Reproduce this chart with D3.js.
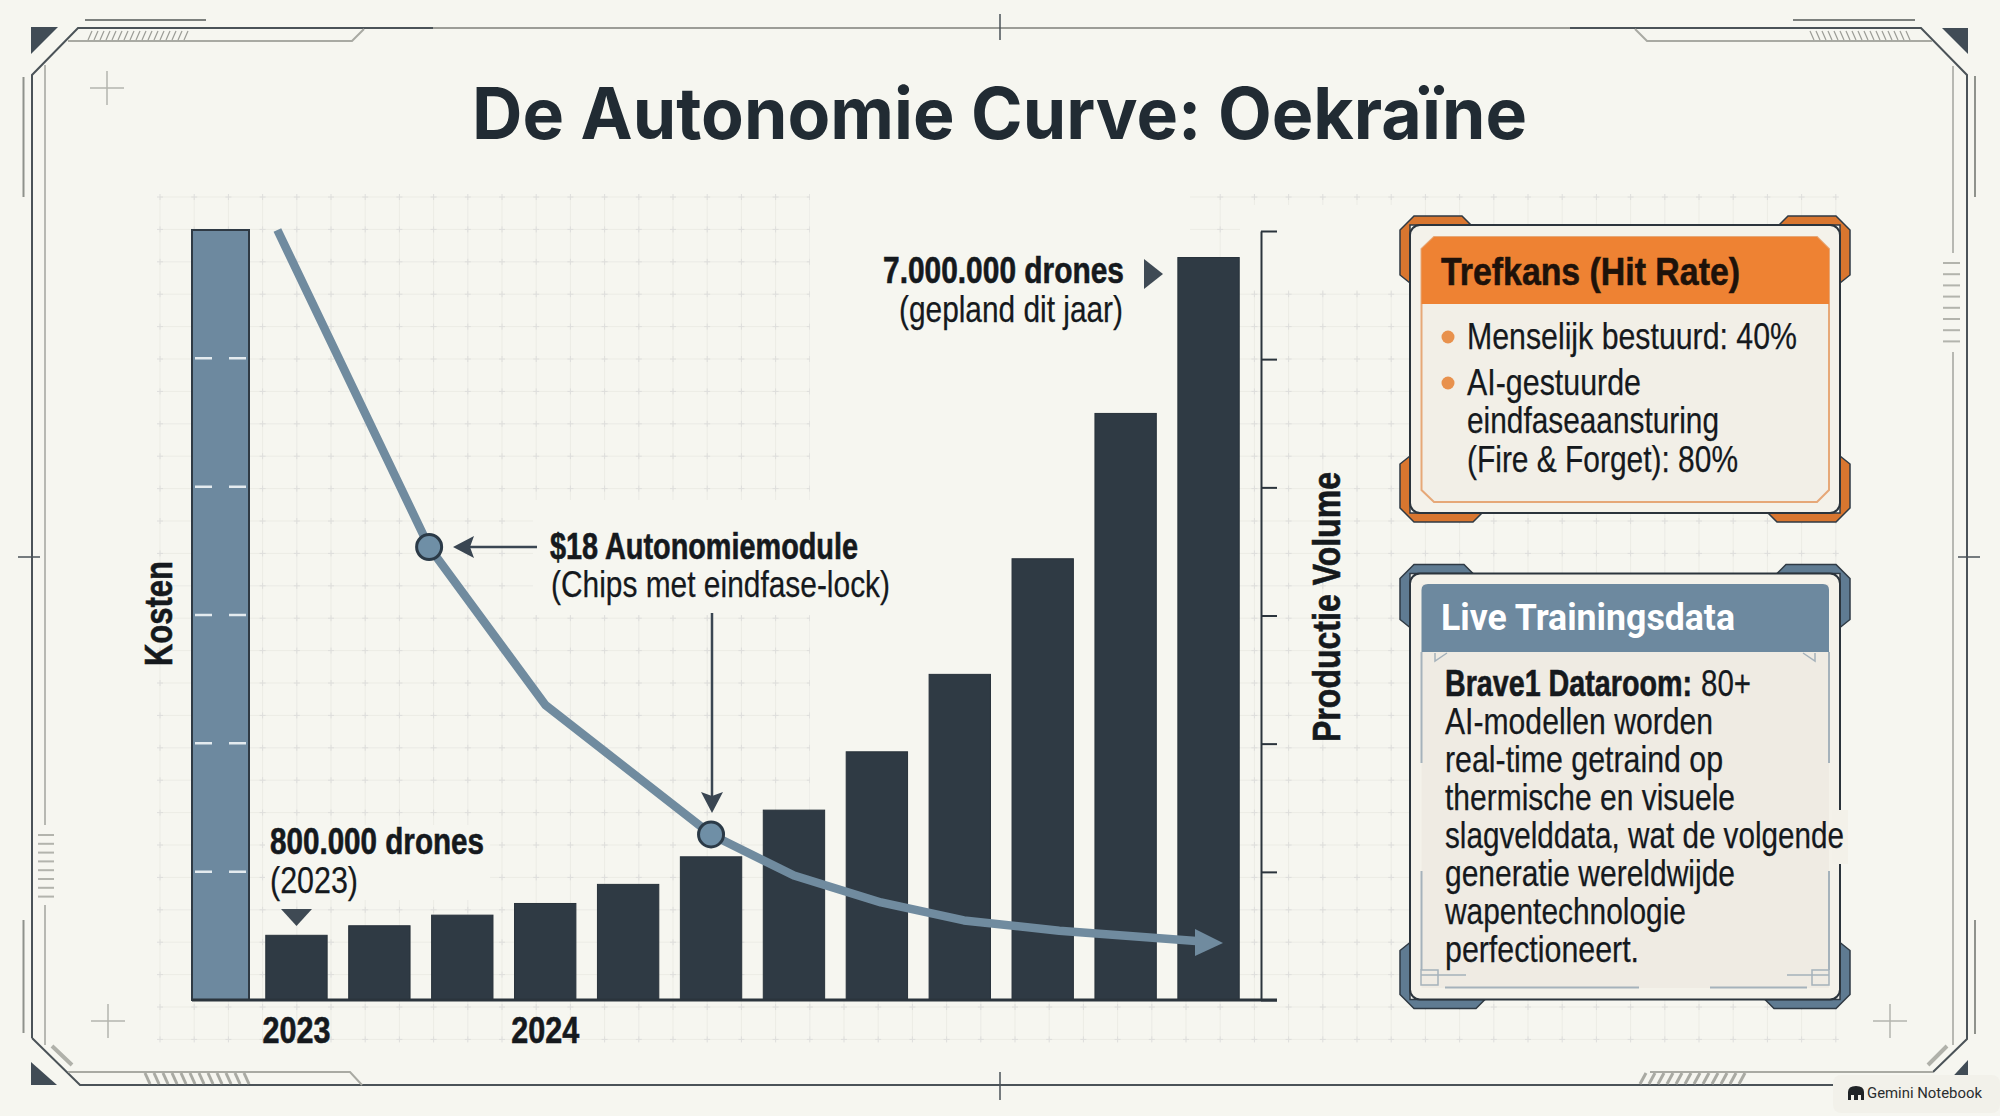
<!DOCTYPE html>
<html>
<head>
<meta charset="utf-8">
<title>De Autonomie Curve: Oekraïne</title>
<script src="https://cdn.jsdelivr.net/npm/d3@7"></script>
<style>
  html, body { margin: 0; padding: 0; background: #f6f6f0; }
  svg { display: block; }
  .narrow { font-family: 'Liberation Sans Narrow', 'Liberation Sans', sans-serif; }
</style>
</head>
<body>
<svg id="chart" width="2000" height="1116"></svg>
<script>
// Production volume per period, in millions of drones (bar heights)
const periods = ['2023', 'p2', 'p3', '2024', 'p5', 'p6', 'p7', 'p8', 'p9', 'p10', 'p11', 'p12'];
const volumes = [0.61, 0.70, 0.80, 0.91, 1.09, 1.35, 1.79, 2.34, 3.07, 4.16, 5.53, 7.0];
const periodLabels = ['2023', '2024'];
const volumeTicks = [0, 1.208, 2.417, 3.625, 4.833, 6.042, 7.25];

// Cost curve: position in periods, cost in axis steps
const costPeriods = [-0.23, 1.6, 3.0, 5.0, 6.0, 7.05, 8.05, 9.2, 10.85];
const costValues = [6.0, 3.53, 2.3, 1.29, 0.97, 0.76, 0.62, 0.54, 0.46];
const costTicks = [1, 2, 3, 4, 5];
const costMarkers = [1, 3];

const hitRateLines = ['Menselijk bestuurd: 40%', 'AI-gestuurde', 'eindfaseaansturing', '(Fire & Forget): 80%'];
const trainingLines = ['AI-modellen worden', 'real-time getraind op', 'thermische en visuele',
  'slagvelddata, wat de volgende', 'generatie wereldwijde', 'wapentechnologie', 'perfectioneert.'];

const dark = '#2f3a44';
const ink = '#15191d';
const slate = '#6d899f';
const bg = '#f6f6f0';

const svg = d3.select('#chart');
svg.append('rect').attr('width', 2000).attr('height', 1116).attr('fill', bg);

function label(parent, str, x, y, size, width, opts = {}) {
  const fill = opts.fill || ink;
  const t = parent.append('text')
    .attr('x', x).attr('y', y)
    .attr('class', opts.family ? null : 'narrow')
    .attr('font-size', size)
    .attr('font-weight', opts.weight || 400)
    .attr('fill', fill)
    .text(str);
  if (opts.family) t.attr('font-family', opts.family);
  else t.attr('stroke', fill).attr('stroke-width', opts.weight ? 0.6 : 0.25);
  if (width) t.attr('textLength', width).attr('lengthAdjust', 'spacingAndGlyphs');
  return t;
}

// Background grid with little plus marks
const grid = svg.append('g');
const gridXs = d3.range(50).map(i => 160 + i * 34.2);
const gridYs = d3.range(27).map(i => 197 + i * 32.4);
gridXs.forEach(x => grid.append('line').attr('x1', x).attr('x2', x).attr('y1', 197).attr('y2', 1040)
  .attr('stroke', '#ecece5').attr('stroke-width', 1));
gridYs.forEach(y => grid.append('line').attr('x1', 160).attr('x2', 1836).attr('y1', y).attr('y2', y)
  .attr('stroke', '#ecece5').attr('stroke-width', 1));
gridXs.forEach(x => gridYs.forEach(y => {
  grid.append('path').attr('d', `M${x - 3},${y}H${x + 3}M${x},${y - 3}V${y + 3}`)
    .attr('stroke', '#dededc').attr('stroke-width', 1).attr('fill', 'none');
}));
// grid fades out behind the labels
[[810, 190, 380, 810], [533, 500, 277, 115], [265, 825, 225, 75], [1240, 205, 160, 85]].forEach(r => {
  grid.append('rect').attr('x', r[0]).attr('y', r[1]).attr('width', r[2]).attr('height', r[3]).attr('fill', bg);
});

// Frame
const frame = svg.append('g').attr('fill', 'none');
function stroke(d, color, w) {
  frame.append('path').attr('d', d).attr('stroke', color).attr('stroke-width', w).attr('fill', 'none');
}
function hatch(x0, x1, y0, y1, step, lean, color, w) {
  d3.range(x0, x1, step).forEach(x => stroke(`M${x + lean},${y0}L${x},${y1}`, color, w));
}
const lineDark = '#4b5358';
const lineGrey = '#a9aaa3';
stroke('M433,28H1570', '#9c9d97', 2);
stroke('M32,1038V75L78,28H433M1570,28H1921L1967,75V1039L1933,1072', lineDark, 2);
stroke('M32,1038L80,1085H1835', lineDark, 2);
stroke('M85,20H206M1793,20H1915', '#7c807d', 2);
stroke('M23.5,77V197M23.5,920V1033M1975,76V197M1975,920V1034', '#8f928c', 2);
stroke('M45,65V825M45,905V1045M1953,66V253M1953,352V1045', '#a3a49d', 1.5);
stroke('M68,41H352L364,29M1635,29L1647,41H1932', lineGrey, 2);
stroke('M68,1072H350L362,1085M1650,1072H1933', lineGrey, 2);
hatch(88, 186, 31, 40, 6, 4, '#9a9b95', 1.2);
hatch(1814, 1912, 31, 40, 6, -4, '#9a9b95', 1.2);
hatch(150, 256, 1073, 1084, 9, -5, '#a9aaa3', 3);
hatch(1640, 1740, 1073, 1084, 9, 6, '#a9aaa3', 3);
stroke('M52,1046L72,1065M1928,1065L1947,1046', '#b0b1aa', 4);
d3.range(8).forEach(i => {
  const y0 = 263 + i * 11.2;
  stroke(`M1943,${y0}H1960`, '#b3b4ad', 2);
  stroke(`M38,${835 + i * 8.8}H54`, '#b3b4ad', 2);
});
[[107, 88], [108, 1021], [1890, 1021]].forEach(c => {
  stroke(`M${c[0] - 17},${c[1]}H${c[0] + 17}M${c[0]},${c[1] - 17}V${c[1] + 17}`, '#b4b5ae', 1.5);
});
stroke('M1000,14V40M1000,1072V1100', lineDark, 1.5);
stroke('M18,557H40M1958,557H1980', lineDark, 1.5);
['M31,27H58L31,54Z', 'M1942,28H1968V54Z', 'M31,1062L57,1085H31Z', 'M1968,1060V1085H1945Z'].forEach(p => {
  frame.append('path').attr('d', p).attr('fill', '#414c56');
});

// Title
label(svg, 'De Autonomie Curve: Oekraïne', 472, 139, 71, 1055,
  { family: 'Inter, sans-serif', weight: 700, fill: '#212b33' });

// Scales
const x = d3.scaleBand().domain(periods).range([255, 1250]).paddingInner(0.26).paddingOuter(0.13);
const yVolume = d3.scaleLinear().domain([0, 7.25]).range([1000, 231]);
const yCost = d3.scaleLinear().domain([0, 6]).range([1000, 230]);
const xCost = d3.scaleLinear().domain([0, 11]).range([x(periods[0]) + x.bandwidth() / 2, x(periods[11]) + x.bandwidth() / 2]);

// Cost column
svg.append('rect')
  .attr('x', 192).attr('width', 57)
  .attr('y', yCost(6)).attr('height', yCost(0) - yCost(6))
  .attr('fill', slate).attr('stroke', dark).attr('stroke-width', 2);
svg.selectAll('.cost-dash')
  .data(costTicks)
  .enter()
  .append('path')
  .attr('class', 'cost-dash')
  .attr('d', d => `M195,${yCost(d)}H212M229,${yCost(d)}H246`)
  .attr('stroke', '#e4ebef').attr('stroke-width', 2.5);

// Bars
svg.selectAll('.bar')
  .data(volumes)
  .enter()
  .append('rect')
  .attr('class', 'bar')
  .attr('x', (d, i) => x(periods[i]))
  .attr('width', x.bandwidth())
  .attr('y', d => yVolume(d))
  .attr('height', d => yVolume(0) - yVolume(d))
  .attr('fill', '#2f3a44')
  .attr('stroke', '#28323b')
  .attr('stroke-width', 1);

// Baseline and right axis
const volumeAxis = d3.axisRight(yVolume).tickValues(volumeTicks).tickSize(16).tickSizeOuter(0);
const axisG = svg.append('g').attr('transform', 'translate(1261,0)').call(volumeAxis);
axisG.selectAll('text').remove();
axisG.selectAll('path, line').attr('stroke', '#2b343c').attr('stroke-width', 2);
svg.append('line').attr('x1', 192).attr('x2', 1277).attr('y1', 1000).attr('y2', 1000)
  .attr('stroke', '#2b343c').attr('stroke-width', 3);

const periodAxis = d3.axisBottom(x).tickValues(periodLabels).tickSize(0);
const periodG = svg.append('g').attr('transform', 'translate(0,1000)').call(periodAxis);
periodG.select('.domain').remove();
periodG.selectAll('text')
  .attr('class', 'narrow')
  .style('font-family', "'Liberation Sans Narrow', sans-serif")
  .attr('y', 43)
  .attr('dy', 0)
  .attr('font-size', 36)
  .attr('font-weight', 700)
  .attr('fill', ink)
  .attr('stroke', ink)
  .attr('stroke-width', 0.6)
  .attr('textLength', 68)
  .attr('lengthAdjust', 'spacingAndGlyphs');

// Cost curve
const costLine = d3.line()
  .x((d, i) => xCost(costPeriods[i]))
  .y(d => yCost(d));
svg.append('path')
  .attr('d', costLine(costValues))
  .attr('fill', 'none')
  .attr('stroke', '#708b9f')
  .attr('stroke-width', 8.5)
  .attr('stroke-linejoin', 'round');
svg.append('path').attr('d', 'M1195,929L1223,943L1195,956Z').attr('fill', '#708b9f');

svg.selectAll('.marker')
  .data(costMarkers)
  .enter()
  .append('circle')
  .attr('class', 'marker')
  .attr('cx', d => xCost(costPeriods[d]))
  .attr('cy', d => yCost(costValues[d]))
  .attr('r', 12.5)
  .attr('fill', '#6f8fa6')
  .attr('stroke', '#2b3a47')
  .attr('stroke-width', 3);

// Annotations
const arrowColor = '#3a4652';
svg.append('path').attr('d', 'M537,547H470').attr('stroke', arrowColor).attr('stroke-width', 2.5);
svg.append('path').attr('d', 'M453,547L474,536L470,547L474,558Z').attr('fill', arrowColor);
svg.append('path').attr('d', 'M712,613V796').attr('stroke', arrowColor).attr('stroke-width', 2.5);
svg.append('path').attr('d', 'M712,813L701,792L712,796L723,792Z').attr('fill', arrowColor);
svg.append('path').attr('d', 'M281,909H312L296.5,926Z').attr('fill', '#3f4a54');
svg.append('path').attr('d', 'M1144,259L1163,274L1144,289Z').attr('fill', '#3f4a54');

label(svg, '$18 Autonomiemodule', 550, 559, 36, 308, { weight: 700 });
label(svg, '(Chips met eindfase-lock)', 551, 597, 36, 339);
label(svg, '800.000 drones', 270, 854, 36, 214, { weight: 700 });
label(svg, '(2023)', 270, 893, 36, 88);
label(svg, '7.000.000 drones', 883, 283, 36, 241, { weight: 700 });
label(svg, '(gepland dit jaar)', 899, 322, 36, 224);

label(svg, 'Kosten', 0, 0, 38, 105, { weight: 700 })
  .attr('transform', 'translate(172,666) rotate(-90)');
label(svg, 'Productie Volume', 0, 0, 38, 270, { weight: 700 })
  .attr('transform', 'translate(1340,742) rotate(-90)');

// Panels
function panel(top, bottom, accent, wTop, wBottom, hTop, hBottom) {
  const g = svg.append('g');
  const x0 = 1400, x1 = 1850, y0 = top - 9, y1 = bottom + 9;
  const corner = (cx, cy, sx, sy, w, h) => {
    const pts = [[14, 0], [w - 9, 0], [w, 9], [10, 9], [10, h + 8], [0, h], [0, 14]];
    g.append('polygon')
      .attr('points', pts.map(q => `${cx + sx * q[0]},${cy + sy * q[1]}`).join(' '))
      .attr('fill', accent).attr('stroke', '#2f3a44').attr('stroke-width', 1.5);
  };
  corner(x0, y0, 1, 1, wTop, hTop);
  corner(x1, y0, -1, 1, wTop, hTop);
  corner(x0, y1, 1, -1, wBottom, hBottom);
  corner(x1, y1, -1, -1, wBottom, hBottom);
  g.append('rect').attr('x', 1410).attr('y', top).attr('width', 430).attr('height', bottom - top)
    .attr('rx', 10).attr('fill', '#f4f2ea').attr('stroke', '#2b343c').attr('stroke-width', 2);
  return g;
}

// Hit rate panel
const hit = panel(225, 513, '#d9762f', 71, 82, 59, 58);
hit.append('path').attr('d', 'M1421.5,304V249L1434,237H1817L1829,249V304V490L1817,502H1434L1421.5,490Z')
  .attr('fill', '#f2efe7').attr('stroke', '#e6a878').attr('stroke-width', 2);
hit.append('path').attr('d', 'M1421.5,304V249L1434,237H1817L1829,249V304Z').attr('fill', '#ee8233');
label(hit, 'Trefkans (Hit Rate)', 1441, 285, 39, 299, { weight: 700, fill: '#1e120a' });
hit.append('circle').attr('cx', 1448).attr('cy', 337).attr('r', 6.5).attr('fill', '#e8914d');
hit.append('circle').attr('cx', 1448).attr('cy', 383).attr('r', 6.5).attr('fill', '#e8914d');
const hitBaselines = [349, 395, 433, 472];
const hitWidths = [330, 174, 252, 271];
hitRateLines.forEach((s, i) => label(hit, s, 1467, hitBaselines[i], 37, hitWidths[i]));

// Training data panel
const live = panel(573.5, 999.5, '#5f7b92', 73, 85, 55, 58);
live.append('rect').attr('x', 1421.5).attr('y', 584).attr('width', 407.5).attr('height', 404)
  .attr('fill', '#efebe3');
live.append('path').attr('d', 'M1421.5,652V590Q1421.5,584 1428,584H1823Q1829,584 1829,590V652Z').attr('fill', slate);
label(live, 'Live Trainingsdata', 1441, 630, 36, 294, { family: 'Roboto, sans-serif', weight: 700, fill: '#ffffff' });
live.append('path')
  .attr('d', 'M1421.5,652V763M1421.5,871V970M1829,652V763M1829,871V970M1445,987.5H1639M1710,987.5H1807')
  .attr('stroke', '#a5b2bb').attr('stroke-width', 2).attr('fill', 'none');
live.append('path')
  .attr('d', 'M1421,975H1466M1421,985V970H1438V985ZM1829,985V970H1812V985ZM1829,975H1787M1435,653V661L1447,653M1815,653V661L1803,653')
  .attr('stroke', '#a5b2bb').attr('stroke-width', 1.5).attr('fill', 'none');
// pale band lets the long line run over the border
live.append('rect').attr('x', 1832).attr('y', 810).attr('width', 16).attr('height', 54).attr('fill', '#f3f1e9');

label(live, 'Brave1 Dataroom:', 1445, 696, 37, 247, { weight: 700 });
label(live, '80+', 1701, 696, 37, 50);
const liveBaselines = [734, 772, 810, 848, 886, 924, 962];
const liveWidths = [268, 278, 290, 399, 290, 241, 194];
trainingLines.forEach((s, i) => label(live, s, 1445, liveBaselines[i], 37, liveWidths[i]));

// Watermark
const mark = svg.append('g');
mark.append('rect').attr('x', 1833).attr('y', 1075).attr('width', 167).attr('height', 38).attr('rx', 8).attr('fill', '#f2f1ea');
mark.append('path').attr('d', 'M1848,1100V1092Q1848,1086 1856,1086Q1864,1086 1864,1092V1100H1861V1095H1858V1100H1854V1095H1851V1100Z').attr('fill', '#1f2326');
label(mark, 'Gemini Notebook', 1867, 1098, 15, 115, { family: 'Roboto, sans-serif', weight: 400, fill: '#2a2d2f' });
</script>
</body>
</html>
